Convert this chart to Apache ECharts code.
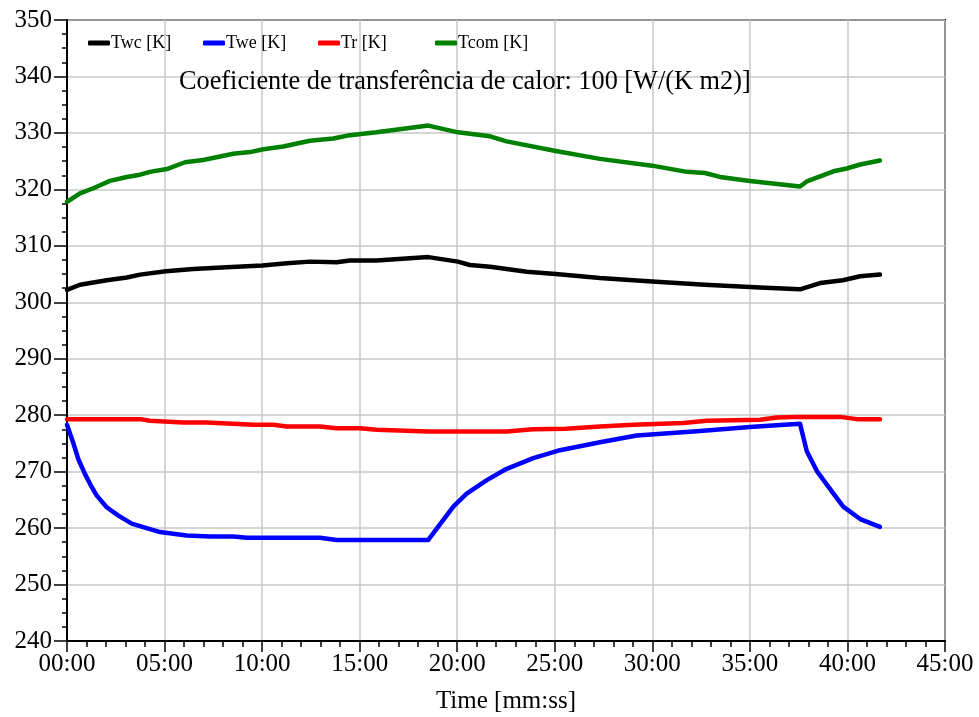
<!DOCTYPE html>
<html>
<head>
<meta charset="utf-8">
<script src="https://cdn.jsdelivr.net/npm/echarts@6/dist/echarts.min.js"></script>
<style>
html,body{margin:0;padding:0;background:#fff;}
#chart{width:979px;height:717px;}
</style>
</head>
<body>
<div id="chart"></div>
<script>
// Time in seconds, values in K
const twcTime = [0, 40, 122, 184, 225, 304, 388, 491, 601, 676, 747, 829, 870, 952, 1111, 1202, 1239, 1301, 1414, 1503, 1639, 1799, 1962, 2131, 2254, 2316, 2386, 2439, 2500];
const twcVals = [302.2, 303.1, 303.9, 304.4, 304.9, 305.5, 305.9, 306.2, 306.5, 306.9, 307.2, 307.1, 307.4, 307.4, 308.0, 307.2, 306.6, 306.3, 305.4, 305.0, 304.3, 303.7, 303.1, 302.6, 302.3, 303.4, 303.9, 304.6, 304.9];

const tweTime = [0, 19, 35, 55, 71, 91, 122, 158, 199, 245, 286, 368, 440, 511, 553, 594, 778, 829, 1111, 1137, 1188, 1229, 1291, 1352, 1434, 1516, 1639, 1752, 1947, 2100, 2254, 2275, 2306, 2357, 2387, 2439, 2500];
const tweVals = [278.3, 275.1, 272.2, 269.6, 267.8, 265.8, 263.7, 262.2, 260.8, 260.0, 259.3, 258.7, 258.5, 258.5, 258.3, 258.3, 258.3, 257.9, 257.9, 259.9, 263.8, 266.1, 268.5, 270.5, 272.4, 273.8, 275.2, 276.4, 277.2, 277.9, 278.5, 273.6, 270.1, 266.1, 263.8, 261.6, 260.2];

const trTime = [0, 225, 255, 358, 430, 573, 634, 676, 778, 829, 901, 952, 1111, 1352, 1434, 1534, 1639, 1742, 1895, 1967, 2131, 2183, 2254, 2377, 2429, 2500];
const trVals = [279.3, 279.3, 279.0, 278.7, 278.7, 278.3, 278.3, 278.0, 278.0, 277.7, 277.7, 277.4, 277.1, 277.1, 277.5, 277.6, 278.0, 278.3, 278.6, 279.0, 279.2, 279.6, 279.7, 279.7, 279.3, 279.3];

const tcomTime = [0, 40, 81, 132, 184, 225, 255, 307, 363, 419, 511, 563, 604, 665, 747, 819, 870, 952, 1111, 1202, 1301, 1352, 1503, 1639, 1799, 1906, 1962, 2008, 2100, 2254, 2275, 2357, 2398, 2439, 2500];
const tcomVals = [317.8, 319.3, 320.2, 321.5, 322.2, 322.6, 323.1, 323.6, 324.8, 325.2, 326.3, 326.6, 327.1, 327.6, 328.6, 329.0, 329.6, 330.1, 331.3, 330.1, 329.4, 328.5, 326.8, 325.4, 324.2, 323.1, 322.9, 322.2, 321.5, 320.5, 321.4, 323.2, 323.7, 324.4, 325.1];

const seriesNames = ['Twc [K]', 'Twe [K]', 'Tr [K]', 'Tcom [K]'];
const seriesColors = ['#000000', '#0000ff', '#ff0000', '#008000'];
const titleText = 'Coeficiente de transferência de calor: 100 [W/(K m2)]';
const xAxisName = 'Time [mm:ss]';

const FONT = 'Liberation Serif';
function pairs(t, v) { return t.map((x, i) => [x, v[i]]); }
function fmt(s) {
  const m = Math.floor(s / 60), sec = Math.round(s % 60);
  return String(m).padStart(2, '0') + ':' + String(sec).padStart(2, '0');
}

const allData = [pairs(twcTime, twcVals), pairs(tweTime, tweVals), pairs(trTime, trVals), pairs(tcomTime, tcomVals)];
const legendLefts = [88, 203, 318, 435];

const chart = echarts.init(document.getElementById('chart'), null, {renderer: 'canvas'});
chart.setOption({
  animation: false,
  backgroundColor: '#ffffff',
  title: {
    text: titleText,
    left: 179, top: 69, padding: 0,
    textStyle: {fontFamily: FONT, fontSize: 26.3, fontWeight: 'normal', color: '#000'}
  },
  legend: seriesNames.map((n, i) => ({
    data: [n], left: legendLefts[i], top: 34, padding: 0,
    icon: 'roundRect', itemWidth: 22, itemHeight: 5,
    textStyle: {fontFamily: FONT, fontSize: 18, color: '#000', padding: [0, 0, 0, -4]}
  })),
  grid: {left: 67, right: 34, top: 20, bottom: 76, show: true, borderColor: '#000', borderWidth: 2,
         containLabel: false, outerBoundsMode: 'none'},
  xAxis: {
    type: 'value', min: 0, max: 2700, interval: 300,
    name: xAxisName, nameLocation: 'middle', nameGap: 48,
    nameTextStyle: {fontFamily: FONT, fontSize: 25, color: '#000'},
    axisLine: {show: true, lineStyle: {color: '#000', width: 2}},
    axisTick: {show: true, inside: false, length: 11, lineStyle: {color: '#000', width: 1.5}},
    minorTick: {show: true, splitNumber: 5, length: 6, lineStyle: {color: '#000', width: 1.5}},
    axisLabel: {fontFamily: FONT, fontSize: 25, color: '#000', margin: 11, formatter: fmt},
    splitLine: {show: true, lineStyle: {color: '#c8c8c8', width: 1.5}}
  },
  yAxis: {
    type: 'value', min: 240, max: 350, interval: 10,
    axisLine: {show: true, lineStyle: {color: '#000', width: 2}},
    axisTick: {show: true, inside: false, length: 13, lineStyle: {color: '#000', width: 1.5}},
    minorTick: {show: true, splitNumber: 4, length: 5, lineStyle: {color: '#000', width: 1.5}},
    axisLabel: {fontFamily: FONT, fontSize: 25, color: '#000', margin: 15},
    splitLine: {show: true, lineStyle: {color: '#c8c8c8', width: 1.5}}
  },
  series: seriesNames.map((n, i) => ({
    name: n, type: 'line', data: allData[i],
    showSymbol: false, symbol: 'none',
    color: seriesColors[i],
    lineStyle: {color: seriesColors[i], width: 4.5, cap: 'round', join: 'round'},
    itemStyle: {color: seriesColors[i]}
  }))
});
</script>
</body>
</html>
